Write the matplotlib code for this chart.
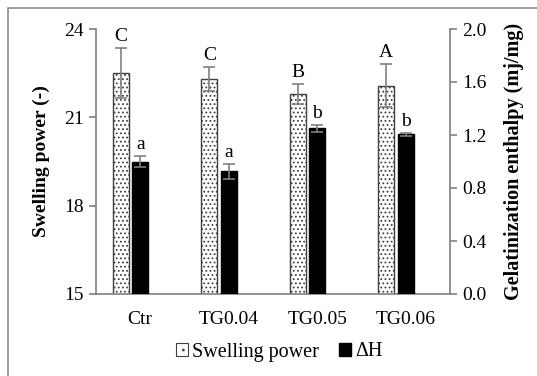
import matplotlib
matplotlib.use("Agg")
import matplotlib.pyplot as plt
from matplotlib.patches import Rectangle, Patch
import numpy as np

plt.rcParams['font.family'] = ['Liberation Serif', 'DejaVu Serif']
plt.rcParams['hatch.color'] = '#555555'
plt.rcParams['hatch.linewidth'] = 0.8

categories = ["Ctr", "TG0.04", "TG0.05", "TG0.06"]
swelling = [22.52, 22.30, 21.79, 22.07]
swelling_err = [0.85, 0.40, 0.33, 0.73]
swelling_letters = ["C", "C", "B", "A"]
dh = [1.00, 0.926, 1.25, 1.205]
dh_err = [0.045, 0.055, 0.025, 0.01]
dh_letters = ["a", "a", "b", "b"]

W, H = 537, 376
fig = plt.figure(figsize=(W/100, H/100), dpi=100)
fig.patches.append(Rectangle((8/W, -0.1), 1.2, (H-8)/H + 0.1, transform=fig.transFigure,
                             fill=False, edgecolor='#8c8c8c', linewidth=1.2))

ax = fig.add_axes([96/W, (H-294)/H, 354/W, 265/H])
ax2 = ax.twinx()
x = np.arange(len(categories))
bw = 0.185
off = 0.22
fs = 14

gray = '#808080'
ax.bar(x - off, swelling, width=bw, color='white', edgecolor='#404040', linewidth=1.0,
       hatch='....', zorder=2)
ax.errorbar(x - off, swelling, yerr=swelling_err, fmt='none', ecolor=gray, elinewidth=1.2,
            capsize=4, capthick=1.2, zorder=3)
for xi, v, e, l in zip(x, swelling, swelling_err, swelling_letters):
    ax.text(xi - off, v + e + 0.1, l, ha='center', va='bottom', fontsize=fs)

ax2.bar(x, dh, width=bw, color='black', edgecolor='black', zorder=2)
ax2.errorbar(x, dh, yerr=dh_err, fmt='none', ecolor=gray, elinewidth=1.2,
             capsize=4, capthick=1.2, zorder=3)
for xi, v, e, l in zip(x, dh, dh_err, dh_letters):
    ax2.text(xi, v + e + 0.02, l, ha='center', va='bottom', fontsize=fs)

ax.set_xlim(-0.5, 3.5)
ax.set_ylim(15, 24)
ax.set_yticks([15, 18, 21, 24])
ax2.set_ylim(0, 2.0)
ax2.set_yticks([0, 0.4, 0.8, 1.2, 1.6, 2.0])
ax2.set_yticklabels([f"{v:.1f}" for v in [0, 0.4, 0.8, 1.2, 1.6, 2.0]])
ax.set_xticks(x)
ax.set_xticklabels(categories)

for a in (ax, ax2):
    a.spines['top'].set_visible(False)
    for s in ('left', 'right', 'bottom'):
        a.spines[s].set_color(gray)
        a.spines[s].set_linewidth(1.2)
    a.tick_params(axis='y', direction='out', length=5, width=1.2, color=gray,
                  labelsize=fs, pad=4)
    a.tick_params(axis='x', length=0, labelsize=fs, pad=12)
ax.spines['right'].set_visible(False)
ax2.spines['left'].set_visible(False)
ax2.spines['bottom'].set_visible(False)

ax.set_ylabel("Swelling power (-)", fontsize=14, fontweight='bold', labelpad=10)
ax2.set_ylabel("Gelatinization enthalpy (mj/mg)", fontsize=14.5, fontweight='bold', labelpad=12)

handles = [Patch(facecolor='white', edgecolor='#404040', hatch='..', linewidth=0.8),
           Patch(facecolor='black', edgecolor='black')]
fig.legend(handles, ["Swelling power", "ΔH"], loc='center', bbox_to_anchor=(279/W, 1 - 352/H),
           ncol=2, frameon=False, fontsize=14.5, handlelength=0.6, handleheight=0.6,
           handletextpad=0.2, columnspacing=1.0)

fig.savefig("out.png", dpi=100)
